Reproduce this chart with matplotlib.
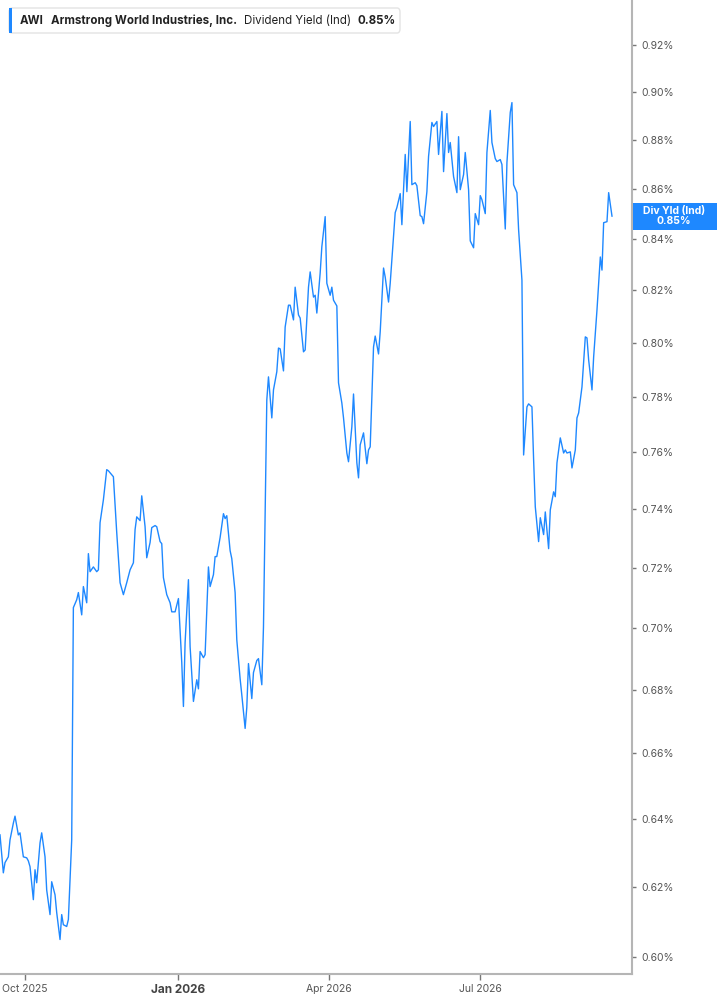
import numpy as np
import pandas as pd
import matplotlib
matplotlib.use("Agg")
import matplotlib.pyplot as plt
from matplotlib.patches import Rectangle, FancyBboxPatch
from matplotlib.ticker import FixedLocator, FuncFormatter, NullLocator

plt.rcParams['font.family'] = ['Inter', 'DejaVu Sans']

BLUE = "#1e88ff"
START = "2025-09-16"

# calendar days after START, and dividend yield (%)
days = [0, 2, 3, 5, 6, 8, 9, 11, 12, 14, 16, 17, 18, 20, 21, 22, 24, 25, 27, 28,
        30, 31, 33, 34, 36, 37, 38, 40, 41, 43, 44, 46, 47, 49, 50, 52, 53, 54, 56, 58,
        59, 60, 62, 64, 65, 68, 70, 72, 74,
        76, 78, 80, 81, 82, 84, 85, 87, 88, 90, 91, 93, 94, 96, 97, 98, 100, 102, 103, 105,
        107, 109, 110, 111, 113, 114, 116, 118, 119, 120, 122, 123, 125, 126, 128, 129, 130, 132, 134, 135,
        136, 138, 139, 141, 142, 144, 145, 147, 148, 149, 151, 152, 154, 155, 157,
        158, 160, 161, 163, 164, 166, 167, 168, 170, 171, 173, 174, 176, 177, 179, 180, 182, 183, 185, 186,
        188, 189, 190, 192, 193, 195, 196, 198, 199, 200, 202, 203, 205, 206, 208, 209, 211, 212, 214, 215,
        216, 218, 220, 221, 222, 224, 225, 227, 228, 230, 231, 233, 234,
        235, 237, 238, 240, 241, 243, 244, 246, 247, 249, 250, 252, 253, 254, 256, 257, 259, 260, 262, 263,
        265, 266, 268, 269, 270, 272, 274, 275, 276, 278, 279, 281, 282, 284, 285, 287, 288, 289, 291, 292,
        294, 295, 297, 298, 300, 301, 303, 304, 306, 307,
        308, 310, 311, 313, 314, 316, 317, 319, 320, 321, 323, 324, 326, 327, 329, 330, 332, 333, 334, 336,
        338, 339, 340, 342, 343, 345, 346, 347, 349, 351, 352, 353, 355, 356, 358, 360, 361, 362, 364, 365,
        367]

yld = [0.6353, 0.6241, 0.6271, 0.6288, 0.6338, 0.6388, 0.6409, 0.6353, 0.6359, 0.6288,
       0.6285, 0.6276, 0.6259, 0.6163, 0.6250, 0.6212, 0.6329, 0.6359, 0.6288, 0.6191,
       0.6120, 0.6215, 0.6177, 0.6126, 0.6049, 0.6120, 0.6091, 0.6086, 0.6106, 0.6338,
       0.7067, 0.7093, 0.7117, 0.7043, 0.7137, 0.7083, 0.7248, 0.7187, 0.7203, 0.7187,
       0.7193, 0.7354, 0.7433, 0.7539, 0.7535, 0.7514, 0.7320, 0.7150, 0.7110,
       0.7150, 0.7193, 0.7217, 0.7330, 0.7374, 0.7361, 0.7447, 0.7340, 0.7234, 0.7286,
       0.7337, 0.7344, 0.7340, 0.7289, 0.7282, 0.7167, 0.7110, 0.7083, 0.7053, 0.7053,
       0.7097, 0.6887, 0.6747, 0.6952, 0.7160, 0.6939, 0.6763, 0.6832, 0.6803, 0.6923,
       0.6903, 0.6913, 0.7203, 0.7137, 0.7177, 0.7238, 0.7238, 0.7303, 0.7385, 0.7368,
       0.7378, 0.7258, 0.7231, 0.7117, 0.6961, 0.6835, 0.6784, 0.6678, 0.6744, 0.6884,
       0.6772, 0.6855, 0.6894, 0.6900, 0.6816,
       0.7003, 0.7789, 0.7874, 0.7724, 0.7826, 0.7893, 0.7981, 0.7978, 0.7896, 0.8060,
       0.8143, 0.8143, 0.8087, 0.8212, 0.8106, 0.8094, 0.7967, 0.7974, 0.8212, 0.8271,
       0.8174, 0.8181, 0.8113, 0.8267, 0.8369, 0.8488, 0.8227, 0.8181, 0.8212, 0.8162,
       0.8140, 0.7852, 0.7778, 0.7724, 0.7598, 0.7567, 0.7692, 0.7811, 0.7563, 0.7510,
       0.7627, 0.7670, 0.7560, 0.7609, 0.7620, 0.7985, 0.8026, 0.7959, 0.8042, 0.8286,
       0.8251, 0.8155, 0.8227,
       0.8318, 0.8504, 0.8524, 0.8580, 0.8456, 0.8739, 0.8588, 0.8875, 0.8616, 0.8624,
       0.8612, 0.8492, 0.8488, 0.8460, 0.8588, 0.8731, 0.8871, 0.8854, 0.8875, 0.8739,
       0.8917, 0.8669, 0.8908, 0.8747, 0.8788, 0.8649, 0.8584, 0.8812, 0.8596, 0.8657,
       0.8747, 0.8596, 0.8392, 0.8365, 0.8500, 0.8456, 0.8572, 0.8556, 0.8500, 0.8747,
       0.8921, 0.8788, 0.8722, 0.8710, 0.8718, 0.8698, 0.8439, 0.8706, 0.8913, 0.8954,
       0.8616, 0.8584, 0.8436, 0.8239, 0.7591, 0.7764, 0.7775, 0.7764, 0.7574, 0.7409,
       0.7289, 0.7371, 0.7313, 0.7391, 0.7265, 0.7398, 0.7461, 0.7444, 0.7563, 0.7652,
       0.7598, 0.7609, 0.7598, 0.7602, 0.7545, 0.7609, 0.7724, 0.7742, 0.7837, 0.8023,
       0.8019, 0.7937, 0.7826, 0.7948, 0.8125, 0.8329, 0.8278, 0.8464, 0.8468, 0.8584,
       0.8490]

y_ticks = [0.60, 0.62, 0.64, 0.66, 0.68, 0.70, 0.72, 0.74, 0.76, 0.78,
           0.80, 0.82, 0.84, 0.86, 0.88, 0.90, 0.92]
x_tick_dates = ["2025-10-01", "2026-01-01", "2026-04-01", "2026-07-01"]
x_tick_labels = ["Oct 2025", "Jan 2026", "Apr 2026", "Jul 2026"]

ticker = "AWI"
company = "Armstrong World Industries, Inc."
metric = "Dividend Yield (Ind)"
last_label = "Div Yld (Ind)"

W, H = 717, 1005
fig = plt.figure(figsize=(W / 100, H / 100), dpi=100)
ax = fig.add_axes([0, 31 / H, 632 / W, 974 / H])

dates = pd.to_datetime(START) + pd.to_timedelta(days, unit="D")
ax.plot(dates, yld, color=BLUE, lw=1.0)

ax.set_yscale("log")
ax.set_ylim(0.5952, 0.9395)
ax.set_xlim(pd.Timestamp(START), pd.Timestamp(START) + pd.Timedelta(days=379))

ax.yaxis.set_major_locator(FixedLocator(y_ticks))
ax.yaxis.set_minor_locator(NullLocator())
ax.yaxis.set_major_formatter(FuncFormatter(lambda v, p: f"{v:.2f}%"))
ax.yaxis.tick_right()
ax.tick_params(axis="y", which="major", direction="out", length=3, width=1,
               color="#777777", labelsize=7.5, labelcolor="#555555", pad=4)

ax.set_xticks(pd.to_datetime(x_tick_dates))
ax.set_xticklabels(x_tick_labels)
ax.xaxis.set_minor_locator(NullLocator())
ax.tick_params(axis="x", direction="out", length=4, width=1,
               color="#777777", labelsize=7.5, labelcolor="#555555", pad=3)
lb = ax.get_xticklabels()
lb[1].set_fontweight("bold")
lb[1].set_fontsize(8.5)
lb[1].set_color("#444444")

for s in ["top", "left"]:
    ax.spines[s].set_visible(False)
for s in ["right", "bottom"]:
    ax.spines[s].set_color("#b5b5b5")
    ax.spines[s].set_linewidth(1.5)

# last value tag on the right axis
last = yld[-1]
y_ax = ax.transAxes.inverted().transform(ax.transData.transform((0, last)))[1]
tag_h = 27 / 974
ax.add_patch(Rectangle((1.0015, y_ax - tag_h / 2), 85 / 632, tag_h,
                       transform=ax.transAxes, facecolor=BLUE, edgecolor="none",
                       clip_on=False, zorder=5))
ax.text(1 + 42 / 632, y_ax, f"{last_label}\n{last:.2f}%", transform=ax.transAxes,
        ha="center", va="center", color="white", fontsize=7.5, fontweight="bold",
        linespacing=1.0, zorder=6)

# header box
fig.patches.append(FancyBboxPatch((9 / W, 1 - 33 / H), 391 / W, 25 / H,
                                  boxstyle="round,pad=0,rounding_size=0.004",
                                  transform=fig.transFigure, facecolor="white",
                                  edgecolor="#e3e3e3", lw=1))
fig.patches.append(Rectangle((9 / W, 1 - 33 / H), 3 / W, 25 / H,
                             transform=fig.transFigure, facecolor=BLUE, edgecolor="none"))
ty = 1 - 20.5 / H
fs = 8.3
fig.text(20 / W, ty, ticker, ha="left", va="center", fontsize=fs, fontweight="bold", color="#222222")
fig.text(51 / W, ty, company, ha="left", va="center", fontsize=fs, fontweight="bold", color="#222222")
fig.text(244 / W, ty, metric, ha="left", va="center", fontsize=fs, color="#222222")
fig.text(358 / W, ty, f"{last:.2f}%", ha="left", va="center", fontsize=fs, fontweight="bold", color="#222222")

fig.savefig("out.png", dpi=100)
